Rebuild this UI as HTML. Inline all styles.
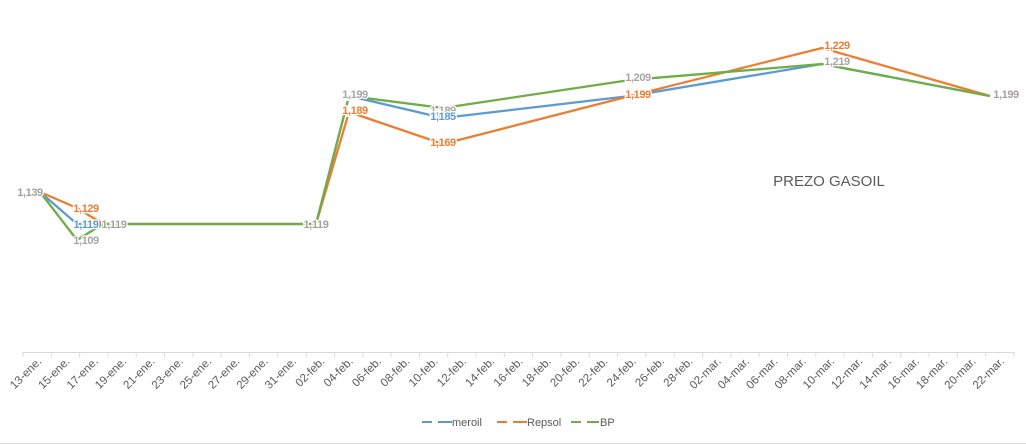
<!DOCTYPE html>
<html><head><meta charset="utf-8"><style>
body{margin:0;background:#fff;}
svg{display:block;font-family:"Liberation Sans",sans-serif;}
.lb{font-size:11px;font-weight:bold;letter-spacing:-0.4px;paint-order:stroke;stroke:#fff;stroke-width:2.5px;text-anchor:middle;}
.ax{font-size:11.5px;fill:#595959;text-anchor:end;}
</style></head><body>
<svg width="1026" height="444" viewBox="0 0 1026 444">
<rect width="1026" height="444" fill="#fff"/>
<line x1="0" y1="443.5" x2="1026" y2="443.5" stroke="#d9d9d9"/>
<line x1="23" y1="352.5" x2="1014" y2="352.5" stroke="#d9d9d9"/>
<g stroke="#d9d9d9" id="ticks"></g>
<g id="axl"></g>
<g fill="none" stroke-width="2.3" stroke-linejoin="round">
<polyline stroke="#5B9BD5" points="40,192 77,224 103,224 316,224 349,96 443,118 630,96 822,64 990,96"/>
<polyline stroke="#ED7D31" points="40,192 77,208 103,224 316,224 349,112 443,144 630,96 822,48 990,96"/>
<polyline stroke="#70AD47" points="40,192 77,240 103,224 316,224 349,96 443,108 630,80 822,64 990,96"/>
</g>
<g class="lb">
<text x="30" y="196" fill="#A5A09B">1,139</text>
<text x="86" y="212" fill="#ED7D31">1,129</text>
<text x="86" y="228" fill="#5B9BD5">1,119</text>
<text x="86" y="244" fill="#A5A5A5">1,109</text>
<text x="114" y="228" fill="#A5A09B">1,119</text>
<text x="316" y="228" fill="#A5A09B">1,119</text>
<text x="355" y="98" fill="#A5A5A5">1,199</text>
<text x="355" y="114" fill="#ED7D31">1,189</text>
<text x="443" y="114" fill="#A5A5A5">1,189</text>
<text x="443" y="120" fill="#5B9BD5">1,185</text>
<text x="443" y="146" fill="#ED7D31">1,169</text>
<text x="638" y="81" fill="#A5A5A5">1,209</text>
<text x="638" y="98" fill="#ED7D31">1,199</text>
<text x="837" y="49" fill="#ED7D31">1,229</text>
<text x="837" y="65" fill="#A5A5A5">1,219</text>
<text x="1006" y="98" fill="#A5A09B">1,199</text>
</g>
<text x="829" y="186" font-size="15" fill="#595959" text-anchor="middle">PREZO GASOIL</text>
<g stroke-width="2">
<line x1="422" y1="422" x2="432" y2="422" stroke="#5B9BD5"/><line x1="438" y1="422" x2="452" y2="422" stroke="#5B9BD5"/>
<line x1="497" y1="422" x2="507" y2="422" stroke="#ED7D31"/><line x1="513" y1="422" x2="527" y2="422" stroke="#ED7D31"/>
<line x1="571" y1="422" x2="581" y2="422" stroke="#70AD47"/><line x1="587" y1="422" x2="599" y2="422" stroke="#70AD47"/>
</g>
<g font-size="11" fill="#595959">
<text x="452" y="426">meroil</text>
<text x="527" y="426">Repsol</text>
<text x="600" y="426">BP</text>
</g>
</svg>
<script>
var labs=[];
var m=['ene.','feb.','mar.'];
for(var i=0;i<35;i++){var dd=new Date(2025,0,13+2*i);labs.push(String(dd.getDate()).padStart(2,'0')+'-'+m[dd.getMonth()]);}
var t=document.getElementById('ticks'),a=document.getElementById('axl'),ns='http://www.w3.org/2000/svg';
var w=(1014-23)/35;
for(var i=0;i<=35;i++){var x=23+i*w;var l=document.createElementNS(ns,'line');l.setAttribute('x1',x);l.setAttribute('x2',x);l.setAttribute('y1',352);l.setAttribute('y2',357);t.appendChild(l);}
for(var i=0;i<35;i++){var x=23+(i+0.5)*w+5;var tx=document.createElementNS(ns,'text');tx.setAttribute('class','ax');tx.setAttribute('transform','translate('+x+',362) rotate(-45)');tx.textContent=labs[i];a.appendChild(tx);}
</script>
</body></html>
